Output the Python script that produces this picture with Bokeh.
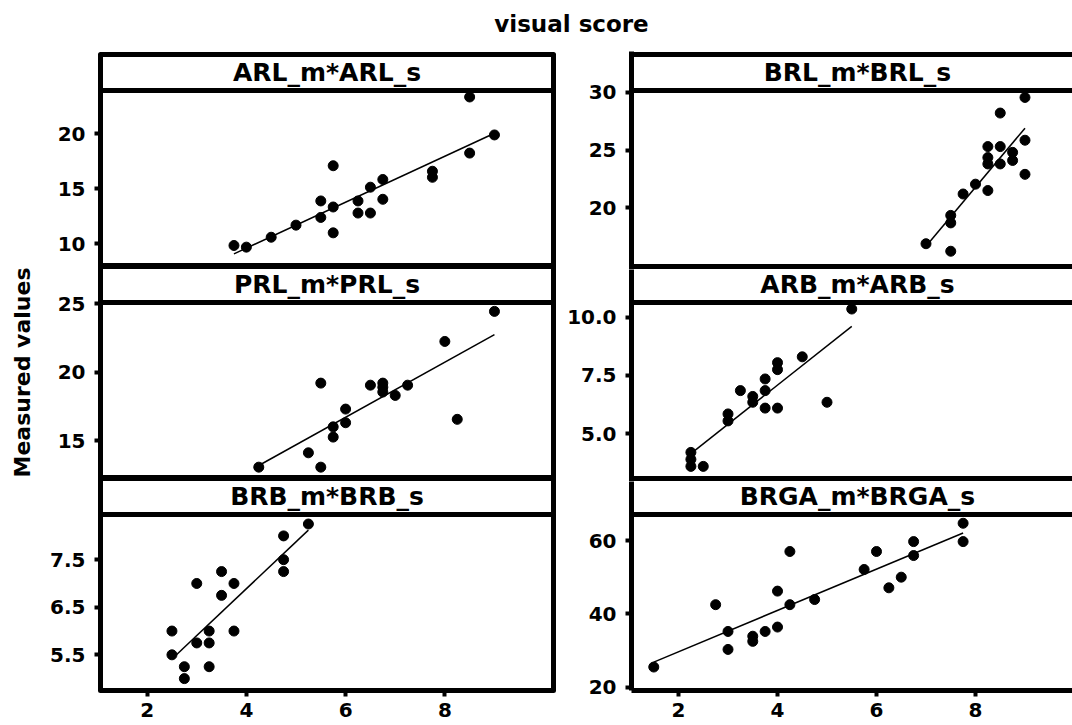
import numpy as np
from bokeh.plotting import figure
from bokeh.layouts import column, row
from bokeh.models import Range1d, FixedTicker, Span, Label, PrintfTickFormatter
from bokeh.embed import file_html
from bokeh.resources import INLINE

# ---------------- data ----------------
arl_x = [3.75, 4.0, 4.5, 5.0, 5.5, 5.5, 5.75, 5.75, 5.75, 6.25, 6.25, 6.5, 6.5, 6.75, 6.75, 7.75, 7.75, 8.5, 8.5, 9.0]
arl_y = [9.85, 9.7, 10.6, 11.7, 12.4, 13.9, 17.1, 13.35, 11.0, 13.9, 12.8, 15.15, 12.8, 15.85, 14.05, 16.6, 16.05, 23.35, 18.25, 19.9]

brl_x = [7.0, 7.5, 7.5, 7.5, 7.75, 8.0, 8.25, 8.25, 8.25, 8.25, 8.5, 8.5, 8.5, 8.75, 8.75, 9.0, 9.0, 9.0]
brl_y = [16.9, 19.35, 18.7, 16.25, 21.2, 22.05, 25.3, 24.35, 23.8, 21.5, 28.2, 25.3, 23.8, 24.8, 24.1, 29.55, 25.85, 22.9]

prl_x = [4.25, 5.25, 5.5, 5.5, 5.75, 5.75, 6.0, 6.0, 6.5, 6.75, 6.75, 6.75, 7.0, 7.25, 8.0, 8.25, 9.0]
prl_y = [13.05, 14.1, 19.2, 13.05, 16.0, 15.25, 17.3, 16.3, 19.05, 19.2, 18.9, 18.55, 18.3, 19.05, 22.25, 16.55, 24.45]

arb_x = [2.25, 2.25, 2.25, 2.5, 3.0, 3.0, 3.25, 3.5, 3.5, 3.75, 3.75, 3.75, 4.0, 4.0, 4.0, 4.5, 5.0, 5.5]
arb_y = [4.2, 3.9, 3.6, 3.6, 5.85, 5.55, 6.85, 6.6, 6.35, 7.35, 6.85, 6.1, 8.05, 7.75, 6.1, 8.3, 6.35, 10.35]

brb_x = [2.5, 2.5, 2.75, 2.75, 3.0, 3.0, 3.25, 3.25, 3.25, 3.5, 3.5, 3.75, 3.75, 4.75, 4.75, 4.75, 5.25]
brb_y = [6.0, 5.5, 5.25, 5.0, 7.0, 5.75, 6.0, 5.75, 5.25, 7.25, 6.75, 7.0, 6.0, 8.0, 7.5, 7.25, 8.25]

brga_x = [1.5, 2.75, 3.0, 3.0, 3.5, 3.5, 3.75, 4.0, 4.0, 4.25, 4.25, 4.75, 5.75, 6.0, 6.25, 6.5, 6.75, 6.75, 7.75, 7.75]
brga_y = [25.5, 42.5, 35.2, 30.3, 33.9, 32.5, 35.2, 46.2, 36.4, 57.0, 42.5, 43.9, 52.1, 57.0, 47.1, 50.0, 59.7, 55.9, 64.7, 59.7]

strip_titles = ["ARL_m*ARL_s", "BRL_m*BRL_s", "PRL_m*PRL_s", "ARB_m*ARB_s", "BRB_m*BRB_s", "BRGA_m*BRGA_s"]

x_ticks = [2, 4, 6, 8]
arl_ticks = [10, 15, 20]
brl_ticks = [20, 25, 30]
prl_ticks = [15, 20, 25]
arb_ticks = [5.0, 7.5, 10.0]
brb_ticks = [5.5, 6.5, 7.5]
brga_ticks = [20, 40, 60]

title_text = "visual score"
ylabel_text = "Measured values"

# ---------------- layout / style ----------------
FONT = "DejaVu Sans"
PANEL_H = 212          # strip + data area, line centre to line centre
STRIP_H = 36
DATA_H = PANEL_H - STRIP_H
LEFT_W, RIGHT_W = 559, 513
LEFT_XR = (1.06, 10.19)
RIGHT_XR = (1.05, 9.96)
RIGHT_XR_FULL = (1.05, 10.18)
AXIS_BORDER = 35

y_limits = {
    "ARL": (7.94, 23.94), "BRL": (14.93, 30.15),
    "PRL": (12.22, 25.1), "ARB": (3.08, 10.63),
    "BRB": (4.75, 8.45), "BRGA": (19.1, 67.09),
}

# right column: the panels run past the picture's right edge, so their frame
# lines are drawn as spans kept inside each frame: (px above top line, px below bottom line)
RIGHT_EXT = [(3, 3), (-3, 3), (-3, 0)]
RIGHT_MBT = [1, 0, 0]


def style_axis(ax, ticks, standoff, fmt=None):
    ax.ticker = FixedTicker(ticks=ticks)
    if fmt:
        ax.formatter = PrintfTickFormatter(format=fmt)
    ax.major_tick_in = 0
    ax.major_tick_out = 6
    ax.major_tick_line_width = 4
    ax.major_tick_line_color = "black"
    ax.minor_tick_line_color = None
    ax.axis_line_width = 5
    ax.axis_line_color = "black"
    ax.major_label_text_font = FONT
    ax.major_label_text_font_size = "20px"
    ax.major_label_text_font_style = "bold"
    ax.major_label_text_color = "black"
    ax.major_label_standoff = standoff


def make_panel(xs, ys, yticks, key, strip_text, col, r, fmt=None):
    lo, hi = y_limits[key]
    s = (hi - lo) / DATA_H                     # data units per pixel
    top = hi + STRIP_H * s
    mbb = AXIS_BORDER if r == 2 else 0
    if col == 0:
        width, mbl, mbr, xr, xfull = LEFT_W, 100, 6, LEFT_XR, LEFT_XR
        mbt = 4 if r == 0 else 0
        y0, y1, frame_h = lo, top, PANEL_H
    else:
        width, mbl, mbr, xr, xfull = RIGHT_W, 72, 0, RIGHT_XR, RIGHT_XR_FULL
        mbt = RIGHT_MBT[r]
        ext_t, ext_b = RIGHT_EXT[r]
        y0, y1 = lo - ext_b * s, top + ext_t * s
        frame_h = PANEL_H + ext_t + ext_b
    p = figure(width=width, height=frame_h + mbt + mbb,
               x_range=Range1d(*xr), y_range=Range1d(y0, y1),
               output_backend="svg", toolbar_location=None,
               x_axis_location="below" if r == 2 else None,
               min_border_left=mbl, min_border_right=mbr,
               min_border_top=mbt, min_border_bottom=mbb)
    p.grid.visible = False
    p.background_fill_color = "white"
    p.border_fill_color = "white"
    if col == 0:
        p.outline_line_color = "black"
        p.outline_line_width = 5
        p.outline_line_join = "round"
    else:
        p.outline_line_color = None
        if r == 0:
            p.add_layout(Span(location=top, dimension="width", line_color="black", line_width=5))
        if r < 2:
            p.add_layout(Span(location=lo, dimension="width", line_color="black", line_width=5))
    p.add_layout(Span(location=hi, dimension="width", line_color="black", line_width=5))

    style_axis(p.yaxis[0], yticks, 9, fmt)
    if r == 2:
        style_axis(p.xaxis[0], x_ticks, 6)

    p.scatter(xs, ys, size=10, color="black")
    k, b = np.polyfit(xs, ys, 1)
    xx = np.array([min(xs), max(xs)])
    p.line(xx, k * xx + b, line_color="black", line_width=1.5)

    p.add_layout(Label(x=(xfull[0] + xfull[1]) / 2, y=(hi + top) / 2, text=strip_text,
                       text_align="center", text_baseline="middle",
                       text_font=FONT, text_font_size="25px", text_font_style="bold",
                       text_color="black"))
    return p


p11 = make_panel(arl_x, arl_y, arl_ticks, "ARL", strip_titles[0], 0, 0)
p12 = make_panel(brl_x, brl_y, brl_ticks, "BRL", strip_titles[1], 1, 0)
p21 = make_panel(prl_x, prl_y, prl_ticks, "PRL", strip_titles[2], 0, 1)
p22 = make_panel(arb_x, arb_y, arb_ticks, "ARB", strip_titles[3], 1, 1, fmt="%.1f")
p31 = make_panel(brb_x, brb_y, brb_ticks, "BRB", strip_titles[4], 0, 2, fmt="%.1f")
p32 = make_panel(brga_x, brga_y, brga_ticks, "BRGA", strip_titles[5], 1, 2)

p21.yaxis.axis_label = ylabel_text
p21.yaxis.axis_label_text_font = FONT
p21.yaxis.axis_label_text_font_size = "22px"
p21.yaxis.axis_label_text_font_style = "bold"
p21.yaxis.axis_label_text_color = "black"
p21.yaxis.axis_label_standoff = 20

# title strip above the panels
tf = figure(width=LEFT_W + RIGHT_W, height=50, output_backend="svg", toolbar_location=None,
            x_range=Range1d(0, 1), y_range=Range1d(0, 1),
            x_axis_location=None, y_axis_location=None,
            min_border_left=70, min_border_right=0, min_border_top=42, min_border_bottom=0)
tf.outline_line_color = None
tf.grid.visible = False
tf.title.text = title_text
tf.title.align = "center"
tf.title.standoff = 12
tf.title.text_font = FONT
tf.title.text_font_size = "23px"
tf.title.text_font_style = "bold"
tf.title.text_color = "black"

panels = row(column(p11, p21, p31, spacing=0), column(p12, p22, p32, spacing=0), spacing=0)
layout = column(tf, panels, spacing=0)

open("out.html", "w").write(file_html(layout, INLINE))
